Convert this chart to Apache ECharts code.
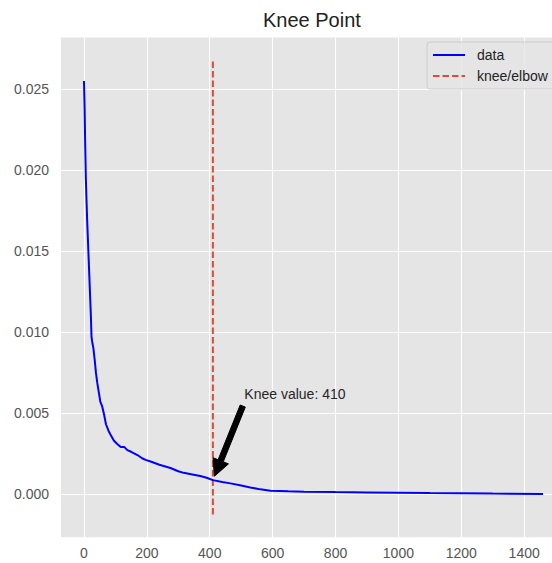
<!DOCTYPE html>
<html>
<head>
<meta charset="utf-8">
<script src="https://cdn.jsdelivr.net/npm/echarts@6/dist/echarts.min.js"></script>
<style>
  html, body { margin: 0; padding: 0; background: #ffffff; overflow: hidden; }
  /* the axes run slightly past the right edge of the view */
  #chart { width: 580px; height: 563px; }
</style>
</head>
<body>
<div id="chart"></div>
<script>
// Sorted curve (x = rank, y = distance)
const curveX = [0, 2, 4, 6, 8, 10, 12, 14, 16, 18, 20, 22, 24, 27, 30, 34, 38, 42, 47, 52,
  58, 64, 70, 78, 86, 95, 105, 117, 128, 138, 150, 170, 185, 196, 212, 240, 275, 300, 317, 345,
  370, 390, 410, 440, 466, 500, 529, 561, 593, 650, 700, 800, 900, 1000, 1100, 1200, 1300, 1460];
const curveY = [0.0255, 0.0240, 0.0215, 0.0195, 0.0182, 0.0170, 0.0160, 0.0150, 0.0140, 0.0130,
  0.0120, 0.0110, 0.0097, 0.0093, 0.0090, 0.0083, 0.0075, 0.0069, 0.0063, 0.0057,
  0.0054, 0.0049, 0.0043, 0.0039, 0.0036, 0.0033, 0.0031, 0.0029, 0.0029, 0.0027,
  0.0026, 0.0024, 0.0022, 0.0021, 0.0020, 0.0018, 0.0016, 0.0014, 0.0013, 0.0012,
  0.0011, 0.0010, 0.00085, 0.00074, 0.00065, 0.00052, 0.0004, 0.00028, 0.0002, 0.00016,
  0.00014, 0.00011, 0.00009, 0.00007, 0.00005, 0.00004, 0.00002, 0.0];

// Knee marker: x position and vertical extent
const kneeX = 410;
const kneeSpan = [-0.001275, 0.026775];

// Annotation: point on the curve and text anchor (baseline-left)
const annotPoint = [410, 0.00085];
const annotText = [510, 0.00585];
const annotLabel = 'Knee value: 410';

// Axis limits and ticks
const xLimits = [-73, 1533];
const yLimits = [-0.00268, 0.02818];
const xTicks = [0, 200, 400, 600, 800, 1000, 1200, 1400];
const yTicks = [0, 0.005, 0.010, 0.015, 0.020, 0.025];

const FONT = '"Liberation Sans", Arial, Helvetica, sans-serif';
const chart = echarts.init(document.getElementById('chart'), null, { renderer: 'svg' });

const px = 100 / 72; // points to pixels

chart.setOption({
  animation: false,
  backgroundColor: '#ffffff',
  title: {
    text: 'Knee Point',
    left: 263,
    top: 9,
    padding: 0,
    textStyle: { fontFamily: FONT, fontSize: 20, fontWeight: 'normal', color: '#222222', lineHeight: 22 }
  },
  legend: {
    data: ['data', 'knee/elbow'],
    orient: 'vertical',
    left: 427,
    top: 42,
    padding: [5, 12, 5, 5],
    itemWidth: 32,
    itemHeight: 16,
    itemGap: 5,
    itemStyle: { opacity: 0 },
    backgroundColor: 'rgba(229,229,229,0.8)',
    borderColor: '#cccccc',
    borderWidth: 1,
    borderRadius: 3,
    textStyle: { fontFamily: FONT, fontSize: 14, color: '#222222', padding: [0, 0, 0, 7], lineHeight: 16 }
  },
  grid: {
    left: 61,
    right: 14,
    top: 37.5,
    bottom: 25.7,
    show: true,
    backgroundColor: '#E5E5E5',
    borderWidth: 0,
    containLabel: false
  },
  xAxis: {
    type: 'value',
    min: xLimits[0],
    max: xLimits[1],
    axisLine: { show: false },
    axisTick: { show: false, customValues: xTicks },
    splitLine: { show: true, lineStyle: { color: '#ffffff', width: 1.1 } },
    axisLabel: {
      customValues: xTicks,
      margin: 9,
      fontFamily: FONT, fontSize: 14, color: '#555555',
      formatter: v => String(v)
    }
  },
  yAxis: {
    type: 'value',
    min: yLimits[0],
    max: yLimits[1],
    axisLine: { show: false },
    axisTick: { show: false, customValues: yTicks },
    splitLine: { show: true, lineStyle: { color: '#ffffff', width: 1.1 } },
    axisLabel: {
      customValues: yTicks,
      margin: 12,
      fontFamily: FONT, fontSize: 14, color: '#555555',
      formatter: v => v.toFixed(3)
    }
  },
  series: [
    {
      name: 'data',
      type: 'line',
      symbol: 'none',
      data: curveX.map((x, i) => [x, curveY[i]]),
      lineStyle: { color: '#0000ff', width: 2 },
      itemStyle: { color: '#0000ff' },
      z: 3
    },
    {
      name: 'knee/elbow',
      type: 'line',
      symbol: 'none',
      data: kneeSpan.map(y => [kneeX, y]),
      lineStyle: { color: '#E24A33', width: 2, type: [6.5, 3] },
      itemStyle: { color: '#E24A33' },
      z: 2
    },
    {
      name: 'annotation',
      type: 'custom',
      encode: { x: [0, 2], y: [1, 3] },
      data: [[annotPoint[0], annotPoint[1], annotText[0], annotText[1]]],
      z: 5,
      renderItem: function (params, api) {
        const tip = api.coord([api.value(0), api.value(1)]);
        const anchor = api.coord([api.value(2), api.value(3)]);
        // arrow starts at the lower-left corner of the text box
        const tail = [anchor[0], anchor[1] + 3];
        const dx = tip[0] - tail[0], dy = tip[1] - tail[1];
        const len = Math.sqrt(dx * dx + dy * dy);
        const ux = dx / len, uy = dy / len;
        const nx = -uy, ny = ux;
        const s = 0.05 * len;
        const t0 = [tail[0] + ux * s, tail[1] + uy * s];
        const h0 = [tip[0] - ux * s, tip[1] - uy * s];
        const w = 4 * px / 2, hw = 12 * px / 2, hl = 12 * px;
        const b = [h0[0] - ux * hl, h0[1] - uy * hl];
        const pts = [
          [t0[0] + nx * w, t0[1] + ny * w],
          [b[0] + nx * w, b[1] + ny * w],
          [b[0] + nx * hw, b[1] + ny * hw],
          h0,
          [b[0] - nx * hw, b[1] - ny * hw],
          [b[0] - nx * w, b[1] - ny * w],
          [t0[0] - nx * w, t0[1] - ny * w]
        ];
        return {
          type: 'group',
          children: [
            {
              type: 'polygon',
              shape: { points: pts },
              style: { fill: '#000000', stroke: '#000000', lineWidth: 1 }
            },
            {
              type: 'text',
              x: anchor[0],
              y: anchor[1] - 5,
              style: {
                text: annotLabel,
                fontFamily: FONT,
                fontSize: 14,
                fill: '#262626',
                align: 'left',
                verticalAlign: 'middle'
              }
            }
          ]
        };
      }
    }
  ]
});
</script>
</body>
</html>
